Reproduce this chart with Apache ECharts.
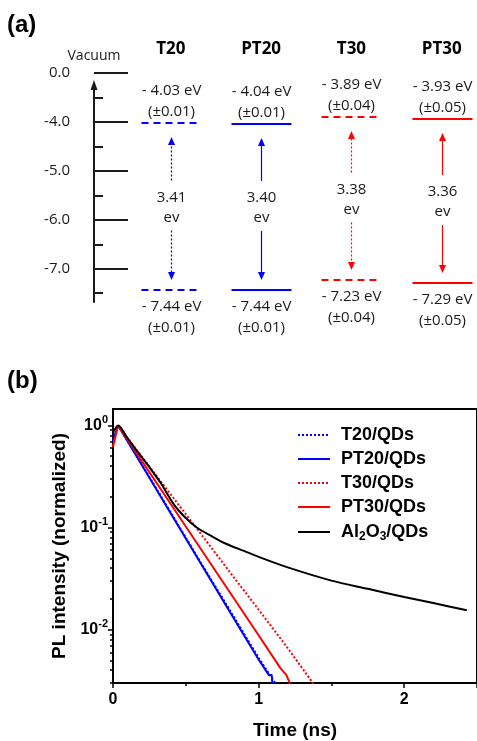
<!DOCTYPE html>
<html>
<head>
<meta charset="utf-8">
<script src="https://cdn.jsdelivr.net/npm/echarts@6/dist/echarts.min.js"></script>
<style>html,body{margin:0;padding:0;background:#fff;}#c{width:477px;height:741px;}</style>
</head>
<body>
<div id="c"></div>
<script>
// ---------- Panel (a): energy levels ----------
const cols = ['T20', 'PT20', 'T30', 'PT30'];
const lumo = [-4.03, -4.04, -3.89, -3.93];
const homo = [-7.44, -7.44, -7.23, -7.29];
const lumoErr = [0.01, 0.01, 0.04, 0.05];
const homoErr = [0.01, 0.01, 0.04, 0.05];
const gapEv = [3.41, 3.40, 3.38, 3.36];
const colColor = ['#0000ff', '#0000ff', '#ff0000', '#ff0000'];
const colDashed = [true, false, true, false];
// axis is broken: the "0.0" (vacuum) tick sits one unit above -4.0
const energyTicks = [-3, -4, -5, -6, -7];
const energyTickLabels = ['0.0', '-4.0', '-5.0', '-6.0', '-7.0'];
const energyMinorTicks = [-3.5, -4.5, -5.5, -6.5, -7.5];

// ---------- Panel (b): PL decay ----------
const seriesNames = ['T20/QDs', 'PT20/QDs', 'T30/QDs', 'PT30/QDs', 'Al2O3/QDs'];
const tT20 = [0, 0.035, 0.2, 0.4, 0.6, 0.8, 1.0, 1.12];
const vT20 = [0.70, 1.0, 0.41, 0.138, 0.046, 0.0157, 0.0053, 0.0029];
const tPT20 = [0, 0.035, 0.2, 0.4, 0.6, 0.8, 1.0, 1.07, 1.09, 1.095];
const vPT20 = [0.72, 1.0, 0.405, 0.135, 0.0452, 0.0151, 0.0051, 0.0036, 0.0036, 0.0029];
const tT30 = [0, 0.035, 0.2, 0.4, 0.6, 0.8, 1.0, 1.2, 1.38];
const vT30 = [0.62, 1.0, 0.49, 0.208, 0.088, 0.037, 0.0157, 0.0066, 0.0029];
const tPT30 = [0, 0.035, 0.2, 0.4, 0.6, 0.8, 1.0, 1.15, 1.19, 1.21, 1.215];
const vPT30 = [0.62, 1.0, 0.445, 0.167, 0.0626, 0.0235, 0.0088, 0.0042, 0.0036, 0.0031, 0.0029];
const tAl = [0, 0.035, 0.1, 0.17, 0.25, 0.33, 0.42, 0.5, 0.58, 0.68, 0.78, 0.9, 1.0, 1.2, 1.5, 1.75, 2.0, 2.2, 2.43];
const vAl = [0.85, 1.0, 0.75, 0.55, 0.39, 0.27, 0.167, 0.124, 0.099, 0.082, 0.069, 0.059, 0.0516, 0.0407, 0.0302, 0.0251, 0.0209, 0.0182, 0.0155];
const decayMajorTicks = [1, 0.1, 0.01];
const decayMinorTicks = [];
[-1, -2, -3].forEach(e => { for (let k = 9; k >= 2; k--) { const v = +(k * Math.pow(10, e)).toPrecision(3); if (v >= 0.003) decayMinorTicks.push(v); } });

const zip = (a, b) => a.map((x, i) => [x, b[i]]);

const levelData = cols.map((c, i) => [i + 1, lumo[i], homo[i], gapEv[i], lumoErr[i], homoErr[i]]);

const textBase = { fill: '#1a1a1a', fontSize: 15, fontFamily: 'Open Sans', align: 'center', lineHeight: 21 };

function renderLevels(params, api) {
  const i = params.dataIndex;
  const pU = api.coord([api.value(0), api.value(1)]);
  const pL = api.coord([api.value(0), api.value(2)]);
  const cx = Math.round(pU[0]) + 0.5;
  const yU = Math.round(pU[1]);
  const yL = Math.round(pL[1]);
  const mid = (yU + yL) / 2;
  const color = colColor[i];
  const dashed = colDashed[i];
  const lvlStyle = { stroke: color, lineWidth: 2, lineDash: dashed ? [7, 5] : null };
  const shaftStyle = { stroke: color, lineWidth: 1.2, lineDash: dashed ? [2, 2] : null };
  const upTip = yU + 14, dnTip = yL - 10;
  return {
    type: 'group',
    children: [
      { type: 'line', shape: { x1: cx - 30, y1: yU, x2: cx + 30, y2: yU }, style: lvlStyle },
      { type: 'line', shape: { x1: cx - 30, y1: yL, x2: cx + 30, y2: yL }, style: lvlStyle },
      { type: 'line', shape: { x1: cx, y1: mid - 26, x2: cx, y2: upTip + 7 }, style: shaftStyle },
      { type: 'polygon', shape: { points: [[cx, upTip], [cx - 3.5, upTip + 8], [cx + 3.5, upTip + 8]] }, style: { fill: color } },
      { type: 'line', shape: { x1: cx, y1: mid + 24, x2: cx, y2: dnTip - 7 }, style: shaftStyle },
      { type: 'polygon', shape: { points: [[cx, dnTip], [cx - 3.5, dnTip - 8], [cx + 3.5, dnTip - 8]] }, style: { fill: color } },
      { type: 'text', x: cx, y: yU - 1, style: Object.assign({}, textBase, {
          text: '- ' + Math.abs(api.value(1)).toFixed(2) + ' eV\n(\u00b1' + api.value(4).toFixed(2) + ')', verticalAlign: 'bottom' }) },
      { type: 'text', x: cx, y: yL + 6, style: Object.assign({}, textBase, {
          text: '- ' + Math.abs(api.value(2)).toFixed(2) + ' eV\n(\u00b1' + api.value(5).toFixed(2) + ')', verticalAlign: 'top' }) },
      { type: 'text', x: cx, y: mid + 1, style: Object.assign({}, textBase, {
          text: api.value(3).toFixed(2) + '\nev', verticalAlign: 'middle', lineHeight: 20 }) }
    ]
  };
}

const lineColors = ['#0000ff', '#0000ff', '#ff0000', '#ff0000', '#000000'];
const lineTypes = ['dotted', 'solid', 'dotted', 'solid', 'solid'];
const lineData = [zip(tT20, vT20), zip(tPT20, vPT20), zip(tT30, vT30), zip(tPT30, vPT30), zip(tAl, vAl)];

const boldB = { fontFamily: 'Liberation Sans', fontWeight: 'bold', color: '#000' };

const chart = echarts.init(document.getElementById('c'), null, { renderer: 'canvas' });
chart.setOption({
  animation: false,
  backgroundColor: '#fff',
  graphic: [
    { type: 'text', x: 7, y: 25, style: { text: '(a)', fill: '#000', font: 'bold 24px "Liberation Sans"', verticalAlign: 'middle' } },
    { type: 'text', x: 7, y: 381, style: { text: '(b)', fill: '#000', font: 'bold 24px "Liberation Sans"', verticalAlign: 'middle' } }
  ],
  grid: [
    { left: 94, top: 73, width: 383, height: 229 },
    { left: 94, top: 85, width: 383, height: 217 },
    { left: 113, top: 409, width: 375, height: 274, show: true, borderColor: '#000', borderWidth: 2, backgroundColor: 'transparent' }
  ],
  xAxis: [
    { gridIndex: 0, type: 'value', min: 0.15, max: 4.39, position: 'top',
      axisLine: { show: false }, axisTick: { show: false }, splitLine: { show: false },
      axisLabel: { customValues: [1, 2, 3, 4], formatter: v => cols[Math.round(v) - 1], margin: 14,
        fontFamily: 'Open Sans', fontWeight: 'bold', fontSize: 17, color: '#000', lineHeight: 20 } },
    { gridIndex: 1, type: 'value', show: false },
    { gridIndex: 2, type: 'value', min: 0, max: 2.5, interval: 1,
      name: 'Time (ns)', nameLocation: 'middle', nameGap: 38,
      nameTextStyle: Object.assign({ fontSize: 19 }, boldB),
      axisLine: { lineStyle: { color: '#000', width: 2 } },
      axisTick: { length: 5, lineStyle: { color: '#000', width: 1.5 } },
      minorTick: { show: true, splitNumber: 2, length: 3, lineStyle: { color: '#000', width: 1.5 } },
      splitLine: { show: false }, minorSplitLine: { show: false },
      axisLabel: Object.assign({ fontSize: 16, margin: 9, showMaxLabel: false }, boldB) }
  ],
  yAxis: [
    { gridIndex: 0, type: 'value', min: -7.68, max: -3, position: 'left',
      name: 'Vacuum', nameLocation: 'end', nameGap: 10,
      nameTextStyle: { fontFamily: 'Open Sans', fontSize: 14, color: '#1a1a1a', align: 'center' },
      axisLine: { show: false }, splitLine: { show: false },
      axisTick: { show: true, inside: true, length: 34, customValues: energyTicks, lineStyle: { color: '#1a1a1a', width: 2 } },
      axisLabel: { customValues: energyTicks, formatter: v => energyTickLabels[energyTicks.indexOf(Math.round(v))],
        margin: 24, fontFamily: 'Open Sans', fontSize: 15, color: '#1a1a1a' } },
    { gridIndex: 0, type: 'value', min: -7.68, max: -3, position: 'left', offset: 0,
      axisLine: { show: false }, splitLine: { show: false }, axisLabel: { show: false },
      axisTick: { show: true, inside: true, length: 9, customValues: energyMinorTicks, lineStyle: { color: '#1a1a1a', width: 2 } } },
    { gridIndex: 1, type: 'value', min: 0, max: 1, position: 'left',
      axisLine: { show: true, symbol: ['none', 'triangle'], symbolSize: [7, 10], lineStyle: { color: '#1a1a1a', width: 2 } },
      axisTick: { show: false }, axisLabel: { show: false }, splitLine: { show: false } },
    { gridIndex: 2, type: 'log', min: 0.003, max: 1.45, position: 'left',
      name: 'PL intensity (normalized)', nameLocation: 'middle', nameGap: 44,
      nameTextStyle: Object.assign({ fontSize: 19 }, boldB),
      axisLine: { show: true, lineStyle: { color: '#000', width: 2 } },
      axisTick: { show: true, length: 5, customValues: decayMajorTicks, lineStyle: { color: '#000', width: 1.5 } },
      splitLine: { show: false },
      axisLabel: { customValues: decayMajorTicks, margin: 5,
        formatter: v => '{b|10}{s|' + Math.round(Math.log10(v)) + '}',
        rich: { b: Object.assign({ fontSize: 16, lineHeight: 20 }, boldB), s: Object.assign({ fontSize: 11, lineHeight: 11, padding: [0, 0, 12, 0] }, boldB) } } },
    { gridIndex: 2, type: 'log', min: 0.003, max: 1.45, position: 'left', offset: 0,
      axisLine: { show: false }, splitLine: { show: false }, axisLabel: { show: false },
      axisTick: { show: true, length: 3, customValues: decayMinorTicks, lineStyle: { color: '#000', width: 1.5 } } }
  ],
  legend: {
    data: seriesNames, orient: 'vertical', left: 297, top: 425, padding: 0,
    itemWidth: 32, itemHeight: 14, itemGap: 4,
    itemStyle: { opacity: 0 },
    formatter: n => n === 'Al2O3/QDs' ? 'Al{sub|2}O{sub|3}/QDs' : n,
    textStyle: Object.assign({ fontSize: 18, lineHeight: 20, padding: [0, 0, 0, 6],
      rich: { sub: Object.assign({ fontSize: 12, lineHeight: 12, padding: [10, 0, 0, 0] }, boldB) } }, boldB)
  },
  series: [
    { type: 'custom', xAxisIndex: 0, yAxisIndex: 0, data: levelData, renderItem: renderLevels, clip: false, silent: true,
      encode: { x: 0, y: [1, 2] } }
  ].concat(seriesNames.map((n, i) => ({
    type: 'line', name: n, xAxisIndex: 2, yAxisIndex: 3, data: lineData[i],
    symbol: 'none', showSymbol: false, smooth: i === 4 ? 0.3 : false,
    lineStyle: { color: lineColors[i], width: 2, type: lineTypes[i] },
    itemStyle: { color: lineColors[i] }
  })))
});
</script>
</body>
</html>
